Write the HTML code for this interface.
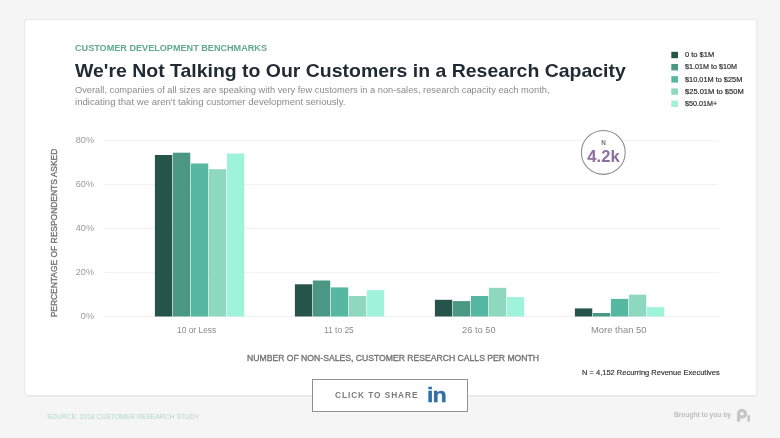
<!DOCTYPE html>
<html lang="en">
<head>
<meta charset="utf-8">
<title>We're Not Talking to Our Customers in a Research Capacity</title>
<style>
html,body{margin:0;padding:0;}
body{width:780px;height:438px;background:#f5f5f5;position:relative;overflow:hidden;font-family:"Liberation Sans",sans-serif;}
.abs{position:absolute;white-space:nowrap;line-height:1;transform-origin:0 50%;}
#eyebrow{left:74.8px;top:43.2px;font-size:9.8px;font-weight:bold;color:#62a893;transform:scaleX(0.929);}
#title{left:74.5px;top:62px;font-size:18.4px;font-weight:bold;color:#1f2a33;transform:scaleX(1.0575);}
.para{left:74.6px;font-size:9px;color:#8b8b8b;}
.ylab{width:40px;left:54px;text-align:right;font-size:9.1px;color:#999;}
.xlab{font-size:9.2px;color:#8a8a8a;top:325.7px;}
#ytitle{left:53.9px;top:233.1px;font-size:8.9px;color:#747474;-webkit-text-stroke:0.35px #747474;transform-origin:50% 50%;transform:translate(-50%,-50%) rotate(-90deg) scaleX(0.951);}
#xtitle{left:247px;top:354.2px;font-size:8.8px;color:#747474;-webkit-text-stroke:0.35px #747474;transform:scaleX(0.980);}
#nnote{left:581.6px;top:369.1px;font-size:8px;color:#2c2c2c;-webkit-text-stroke:0.15px #2c2c2c;transform:scaleX(0.937);}
.leg{font-size:7.8px;color:#2e2e2e;left:684.8px;-webkit-text-stroke:0.2px #2e2e2e;}

#bn{left:581px;width:45px;text-align:center;top:140.2px;font-size:6.3px;font-weight:bold;color:#776e80;}
#bv{left:581px;width:45px;text-align:center;top:148.6px;font-size:16.6px;font-weight:bold;color:#8d6e9f;}
#btn{position:absolute;left:312px;top:379px;width:154px;height:31px;border:1px solid #909090;background:#fff;}
#btxt{left:334.5px;top:390.6px;font-size:9.1px;font-weight:bold;color:#7c7c7c;letter-spacing:1.0px;transform:scaleX(0.915);}
#src{left:46.8px;top:412.7px;font-size:7.4px;color:#aed6ca;transform:scaleX(0.914);}
#bty{left:673.8px;top:411.2px;font-size:7.2px;font-weight:bold;color:#bcbcbc;transform:scaleX(0.92);}
</style>
</head>
<body>
<!-- grid -->
<svg class="abs" style="left:0;top:0" width="780" height="438" viewBox="0 0 780 438">
<rect x="24.9" y="20.3" width="731.8" height="376.2" rx="3.5" fill="#e6e6e6"/>
<rect x="24.7" y="19.5" width="732.2" height="376.1" rx="3" fill="#fff" stroke="#e8e8e8" stroke-width="1.1"/>
<rect x="104.2" y="140.15" width="614.3" height="1.1" fill="#f2f2f2"/>
<rect x="104.2" y="184.08" width="614.3" height="1.1" fill="#f2f2f2"/>
<rect x="104.2" y="228.01" width="614.3" height="1.1" fill="#f2f2f2"/>
<rect x="104.2" y="271.94" width="614.3" height="1.1" fill="#f2f2f2"/>
<rect x="104.2" y="315.87" width="614.3" height="1.1" fill="#f2f2f2"/>
<rect x="154.9" y="155.0" width="17.35" height="161.5" fill="#27544a"/>
<rect x="172.9" y="152.7" width="17.35" height="163.8" fill="#4a9883"/>
<rect x="190.9" y="163.5" width="17.35" height="153.0" fill="#56b8a2"/>
<rect x="208.9" y="169.2" width="17.35" height="147.3" fill="#8dd8bf"/>
<rect x="226.9" y="153.5" width="17.35" height="163.0" fill="#9ef3d8"/>
<rect x="294.9" y="284.3" width="17.35" height="32.2" fill="#27544a"/>
<rect x="312.9" y="280.5" width="17.35" height="36.0" fill="#4a9883"/>
<rect x="330.9" y="287.4" width="17.35" height="29.1" fill="#56b8a2"/>
<rect x="348.9" y="296.0" width="17.35" height="20.5" fill="#8dd8bf"/>
<rect x="366.9" y="290.1" width="17.35" height="26.4" fill="#9ef3d8"/>
<rect x="434.9" y="299.8" width="17.35" height="16.7" fill="#27544a"/>
<rect x="452.9" y="301.1" width="17.35" height="15.4" fill="#4a9883"/>
<rect x="470.9" y="296.0" width="17.35" height="20.5" fill="#56b8a2"/>
<rect x="488.9" y="287.8" width="17.35" height="28.7" fill="#8dd8bf"/>
<rect x="506.9" y="297.1" width="17.35" height="19.4" fill="#9ef3d8"/>
<rect x="574.9" y="308.4" width="17.35" height="8.1" fill="#27544a"/>
<rect x="592.9" y="313.0" width="17.35" height="3.5" fill="#4a9883"/>
<rect x="610.9" y="298.9" width="17.35" height="17.6" fill="#56b8a2"/>
<rect x="628.9" y="294.7" width="17.35" height="21.8" fill="#8dd8bf"/>
<rect x="646.9" y="307.1" width="17.35" height="9.4" fill="#9ef3d8"/>
<rect x="671.3" y="51.8" width="6.7" height="6.4" fill="#27544a"/>
<rect x="671.3" y="64.0" width="6.7" height="6.4" fill="#4a9883"/>
<rect x="671.3" y="76.2" width="6.7" height="6.4" fill="#56b8a2"/>
<rect x="671.3" y="88.4" width="6.7" height="6.4" fill="#8dd8bf"/>
<rect x="671.3" y="100.6" width="6.7" height="6.4" fill="#9ef3d8"/>
<circle cx="603.3" cy="152.45" r="21.9" fill="#fff" stroke="#8c8c8c" stroke-width="1.05"/>
</svg>

<div id="eyebrow" class="abs">CUSTOMER DEVELOPMENT BENCHMARKS</div>
<div id="title" class="abs">We're Not Talking to Our Customers in a Research Capacity</div>
<div id="p1" class="abs para" style="top:85.8px;transform:scaleX(1.031)">Overall, companies of all sizes are speaking with very few customers in a non-sales, research capacity each month,</div>
<div id="p2" class="abs para" style="top:98px;transform:scaleX(1.064)">indicating that we aren't taking customer development seriously.</div>

<!-- legend -->
<div class="abs leg" id="l1" style="top:51.2px;transform:scaleX(0.962)">0 to $1M</div>
<div class="abs leg" id="l2" style="top:63.4px;transform:scaleX(0.921)">$1.01M to $10M</div>
<div class="abs leg" id="l3" style="top:75.6px;transform:scaleX(0.944)">$10.01M to $25M</div>
<div class="abs leg" id="l4" style="top:87.8px;transform:scaleX(0.967)">$25.01M to $50M</div>
<div class="abs leg" id="l5" style="top:100.0px;transform:scaleX(0.923)">$50.01M+</div>

<div class="abs ylab" style="top:136px">80%</div>
<div class="abs ylab" style="top:180px">60%</div>
<div class="abs ylab" style="top:224px">40%</div>
<div class="abs ylab" style="top:268px">20%</div>
<div class="abs ylab" style="top:312px">0%</div>
<div id="ytitle" class="abs">PERCENTAGE OF RESPONDENTS ASKED</div>


<div class="abs xlab" style="left:176.9px;transform:scaleX(0.914)">10 or Less</div>
<div class="abs xlab" style="left:323.7px;transform:scaleX(0.916)">11 to 25</div>
<div class="abs xlab" style="left:461.6px;transform:scaleX(1.01)">26 to 50</div>
<div class="abs xlab" style="left:590.8px;transform:scaleX(1.026)">More than 50</div>
<div id="xtitle" class="abs">NUMBER OF NON-SALES, CUSTOMER RESEARCH CALLS PER MONTH</div>
<div id="nnote" class="abs">N = 4,152 Recurring Revenue Executives</div>


<div id="bn" class="abs">N</div>
<div id="bv" class="abs">4.2k</div>

<div id="btn"></div>
<div id="btxt" class="abs">CLICK TO SHARE</div>
<div id="li" class="abs" style="left:427.2px;top:384.2px;font-size:20.8px;font-weight:bold;color:#2f6ea5;-webkit-text-stroke:0.3px #2f6ea5;letter-spacing:-0.9px;transform:translateY(0.5px) scaleX(1.12);">in</div>

<div id="src" class="abs">SOURCE: 2018 CUSTOMER RESEARCH STUDY</div>
<div id="bty" class="abs">Brought to you by</div>
<svg class="abs" style="left:736px;top:408px" width="16" height="15" viewBox="0 0 16 15">
  <circle cx="6" cy="5.7" r="3.4" fill="none" stroke="#c6c6c6" stroke-width="3.2"/>
  <rect x="1" y="5.7" width="3.2" height="7.8" fill="#c6c6c6"/>
  <rect x="11.4" y="7.3" width="2.6" height="6.2" fill="#c6c6c6"/>
</svg>
</body>
</html>
